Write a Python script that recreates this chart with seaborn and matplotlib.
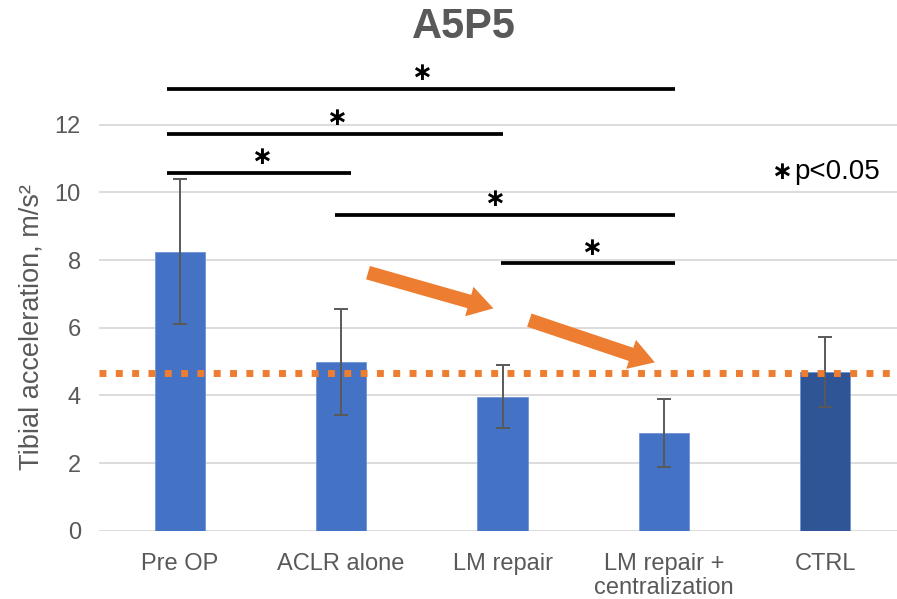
import matplotlib
matplotlib.use("Agg")
import matplotlib.pyplot as plt
import pandas as pd
import seaborn as sns
from matplotlib.patches import FancyArrowPatch

groups = ["Pre OP", "ACLR alone", "LM repair", "LM repair +\ncentralization", "CTRL"]
means = [8.25, 4.98, 3.96, 2.88, 4.69]
sds = [2.14, 1.56, 0.93, 1.00, 1.03]
bar_colors = ["#4472C4", "#4472C4", "#4472C4", "#4472C4", "#2F5597"]
ctrl_level = 4.67

# significance brackets: (start, end, height, star position)
sig_start = [-0.08, -0.08, -0.08, 0.96, 1.99]
sig_end = [3.07, 2.0, 1.06, 3.07, 3.07]
sig_height = [13.07, 11.74, 10.58, 9.33, 7.90]
sig_star_x = [1.50, 0.97, 0.51, 1.95, 2.55]

# trend arrows (tail x, tail y, tip x, tip y)
arrows = [(1.15, 7.65, 1.96, 6.55), (2.15, 6.25, 2.96, 4.95)]

GREY = "#595959"
ORANGE = "#ED7D31"
FONT = ["Liberation Sans", "DejaVu Sans"]

sns.set_theme(style="white")
plt.rcParams["font.family"] = FONT

df = pd.DataFrame({"group": groups, "mean": means, "sd": sds})

fig = plt.figure(figsize=(8.97, 5.99), dpi=100)
ax = fig.add_axes([99 / 897, 68.3 / 599, 807 / 897, 473.6 / 599])

sns.barplot(data=df, x="group", y="mean", hue="group", palette=bar_colors,
            saturation=1, width=0.31, dodge=False, legend=False, errorbar=None,
            edgecolor="#6F94D6", linewidth=0.6, ax=ax, zorder=2)
ax.errorbar(range(len(groups)), means, yerr=sds, fmt="none", ecolor=GREY,
            elinewidth=1.4, capsize=4.8, capthick=1.4, zorder=4)

ax.axhline(ctrl_level, color=ORANGE, lw=5, dashes=(1, 1.35),
           dash_capstyle="butt", zorder=5)

ax.set_xlim(-0.5, 4.5)
ax.set_ylim(0, 14)
ax.set_yticks(range(0, 13, 2))
ax.yaxis.grid(True, color="#D9D9D9", lw=1.3, zorder=0)
ax.set_axisbelow(True)
for s in ax.spines.values():
    s.set_visible(False)
ax.tick_params(axis="both", length=0, labelsize=17, labelcolor=GREY)
ax.tick_params(axis="y", pad=13)
ax.tick_params(axis="x", pad=16)
for lbl in ax.get_xticklabels():
    lbl.set_linespacing(1.15)
ax.set_xlabel("")
ax.set_ylabel("Tibial acceleration, m/s²", fontsize=19.5, color=GREY)
ax.yaxis.set_label_coords(-0.068, 0.43)

for x0, x1, y, sx in zip(sig_start, sig_end, sig_height, sig_star_x):
    ax.plot([x0, x1], [y, y], color="black", lw=2.7, solid_capstyle="butt",
            clip_on=False, zorder=6)
    ax.text(sx, y + 0.47, "∗", ha="center", va="center", fontsize=18,
            fontweight="bold", color="black", family=["DejaVu Sans"])

for tx, ty, hx, hy in arrows:
    ax.add_patch(FancyArrowPatch(
        (tx, ty), (hx, hy),
        arrowstyle="simple,head_length=0.9,head_width=1.1,tail_width=0.5",
        mutation_scale=20, color=ORANGE, lw=0, zorder=6))

ax.text(3.73, 10.6, "∗", ha="center", va="center", fontsize=18,
        fontweight="bold", color="black", family=["DejaVu Sans"])
ax.text(3.81, 10.6, "p<0.05", ha="left", va="center", fontsize=20,
        color="black")

fig.text(464 / 897, 1 - 27 / 599, "A5P5", ha="center", va="center",
         fontsize=30, fontweight="bold", color=GREY)

fig.savefig("out.png", dpi=100)
